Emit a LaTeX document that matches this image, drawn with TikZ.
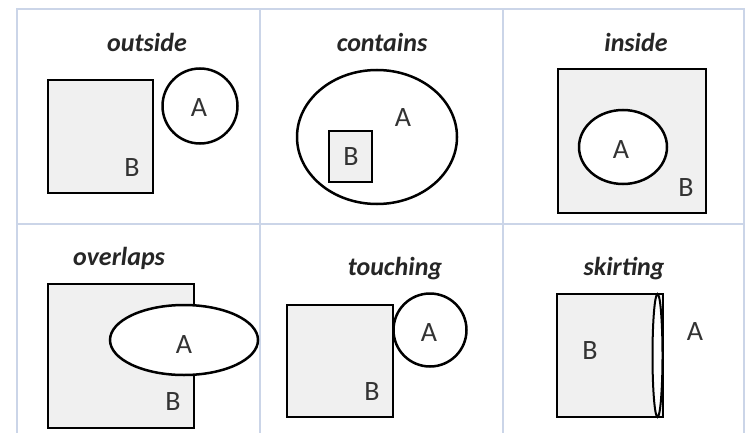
\documentclass[tikz,border=0pt]{standalone}
\usepackage{fontspec}
\setmainfont{Carlito}
\usetikzlibrary{shapes.geometric}
\definecolor{gridblue}{HTML}{CBD5E8}
\definecolor{shapefill}{HTML}{F0F0F0}
\tikzset{
  gridline/.style={draw=gridblue, line width=1.4pt},
  title/.style={anchor=base, font=\fontsize{26}{30}\selectfont\bfseries\itshape, inner sep=0pt, text=black!85},
  lbl/.style={font=\fontsize{28}{32}\selectfont, inner sep=0pt, text=black!80},
  regionB/.style={draw=black, line width=2.7pt, fill=shapefill, rectangle, inner sep=0pt},
  regionA/.style={draw=black, line width=2.5pt, fill=white, inner sep=0pt},
  circA/.style={regionA, circle},
  ellA/.style={regionA, ellipse},
}
\begin{document}
\begin{tikzpicture}[x=1pt, y=-1pt]
  \useasboundingbox (0,0) rectangle (746,433);
  \fill[white] (0,0) rectangle (746,433);

  % table grid
  \draw[gridline] (17,433) -- (17,9) -- (744,9) -- (744,433);
  \draw[gridline] (260,9) -- (260,433);
  \draw[gridline] (503,9) -- (503,433);
  \draw[gridline] (17,224) -- (744,224);

  % outside
  \node[title] (t1) at (147,52) {outside};
  \node[regionB, minimum width=105pt, minimum height=113pt] (b1) at (100.5,136.5) {};
  \node[circA, minimum size=75pt] (a1) at (200,106) {};
  \node[lbl] (la1) at (199,108) {A};
  \node[lbl] (lb1) at (132,168) {B};

  % contains
  \node[title] (t2) at (382,52) {contains};
  \node[ellA, minimum width=160pt, minimum height=134pt] (a2) at (377,137) {};
  \node[regionB, minimum width=43pt, minimum height=51pt] (b2) at (350.5,156.5) {};
  \node[lbl] (la2) at (403,118) {A};
  \node[lbl] (lb2) at (351,157) {B};

  % inside
  \node[title] (t3) at (636,52) {inside};
  \node[regionB, minimum width=148pt, minimum height=144pt] (b3) at (632,141) {};
  \node[ellA, minimum width=88pt, minimum height=74pt] (a3) at (623,147) {};
  \node[lbl] (la3) at (621,150) {A};
  \node[lbl] (lb3) at (686,188) {B};

  % overlaps
  \node[title] (t4) at (119,265) {overlaps};
  \node[regionB, minimum width=146pt, minimum height=144pt] (b4) at (121,356) {};
  \node[ellA, minimum width=148pt, minimum height=70pt] (a4) at (184,340) {};
  \node[lbl] (la4) at (184,345) {A};
  \node[lbl] (lb4) at (173,402) {B};

  % touching
  \node[title] (t5) at (395,275) {touching};
  \node[regionB, minimum width=106pt, minimum height=112pt] (b5) at (340,361) {};
  \node[circA, minimum size=73pt] (a5) at (430,330) {};
  \node[lbl] (la5) at (429,333) {A};
  \node[lbl] (lb5) at (372,392) {B};

  % skirting: thin lens hugging the right side of B
  \node[title] (t6) at (624,275) {skirting};
  \node[regionB, minimum width=106pt, minimum height=123pt] (b6) at (610,355.5) {};
  \node[ellA, line width=2pt, minimum width=10pt, minimum height=123pt] (a6) at (657.5,355.5) {};
  \node[lbl] (la6) at (695,332) {A};
  \node[lbl] (lb6) at (590,351) {B};
\end{tikzpicture}
\end{document}
